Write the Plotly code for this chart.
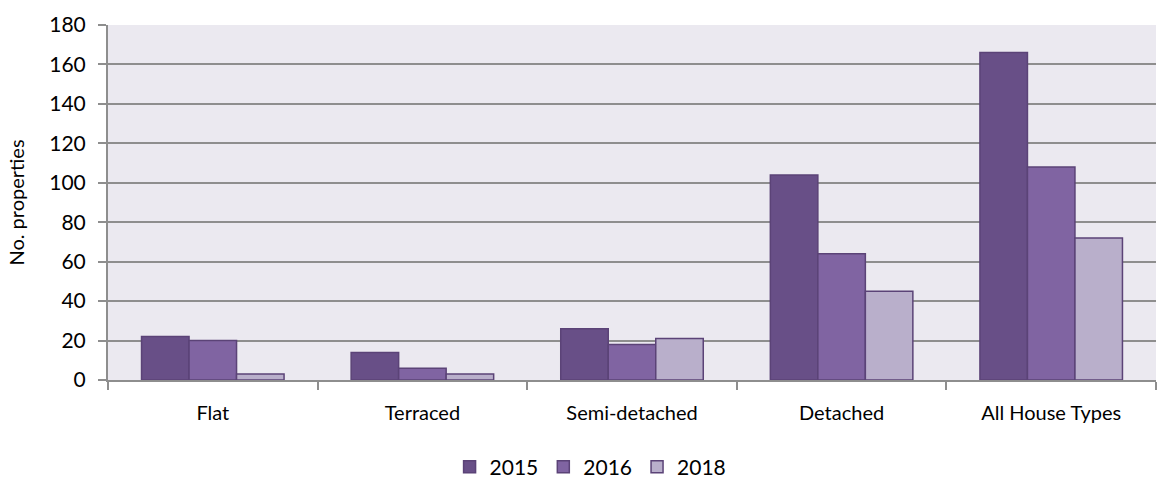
import plotly.graph_objects as go

categories = ["Flat", "Terraced", "Semi-detached", "Detached", "All House Types"]
years = ["2015", "2016", "2018"]
values_2015 = [22, 14, 26, 104, 166]
values_2016 = [20, 6, 18, 64, 108]
values_2018 = [3, 3, 21, 45, 72]
y_ticks = [0, 20, 40, 60, 80, 100, 120, 140, 160, 180]

series = [values_2015, values_2016, values_2018]
fills = ["#684f87", "#8064a2", "#b9afcb"]
edge = "#5b4377"

fig = go.Figure()
for name, vals, col in zip(years, series, fills):
    fig.add_trace(go.Bar(
        x=categories, y=vals, name=name,
        marker=dict(color=col, line=dict(color=edge, width=1.5)),
    ))

font_family = "Lato, 'DejaVu Sans', sans-serif"
fig.update_layout(
    width=1158, height=479,
    margin=dict(l=108, r=2, t=25, b=99, autoexpand=False),
    paper_bgcolor="white",
    plot_bgcolor="#ebe9f0",
    barmode="group",
    bargap=0.32,
    bargroupgap=0,
    font=dict(family=font_family, size=21, color="#000000"),
    legend=dict(orientation="h", xref="container", x=0.51, xanchor="center",
                yref="container", y=0.025, yanchor="middle",
                font=dict(size=21), tracegroupgap=0),
    showlegend=True,
)
fig.update_yaxes(
    range=[0, 180], tickvals=y_ticks, ticktext=[str(v) for v in y_ticks],
    showgrid=True, gridcolor="#8e8e8e", gridwidth=2,
    showline=True, linecolor="#8e8e8e", linewidth=2,
    ticks="outside", ticklen=8, tickcolor="#8e8e8e", tickwidth=2,
    ticklabelstandoff=8,
    tickfont=dict(size=21),
    title=dict(text="No. properties", font=dict(size=20), standoff=19),
    zeroline=False,
)
fig.update_xaxes(
    showline=True, linecolor="#8e8e8e", linewidth=2,
    ticks="outside", ticklen=8, tickcolor="#8e8e8e", tickwidth=2,
    tickson="boundaries",
    ticklabelstandoff=14,
    tickfont=dict(size=20),
)

fig.write_html("out.html")
